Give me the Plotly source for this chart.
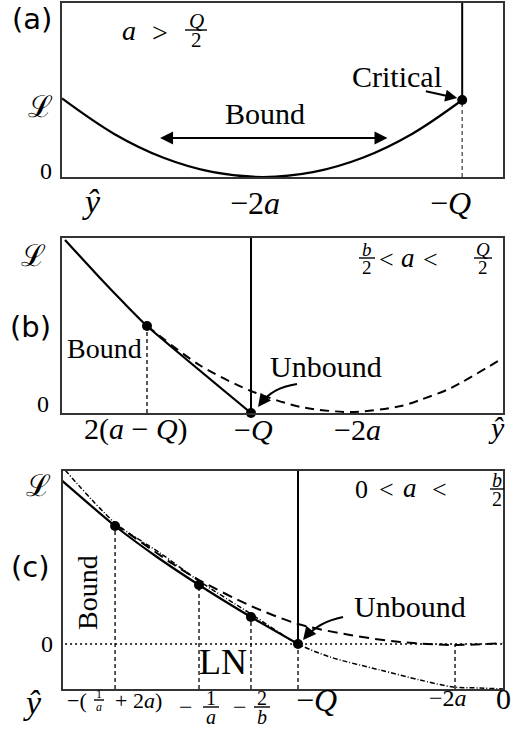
import plotly.graph_objects as go

W, H = 512, 732
SERIF = "Liberation Serif"
SANS = "DejaVu Sans"

# ---------------- data (arbitrary units) ----------------
# panel (a): a > Q/2
a_yhat = [-6.02, -5.5, -5.0, -4.5, -4.0, -3.5, -3.0, -2.5, -2.0]
a_L = [4.08, 2.25, 1.0, 0.25, 0.0, 0.25, 1.0, 2.25, 4.0]
a_crit_yhat = [-2.0]
a_crit_L = [4.0]
a_top = 9.04

# panel (b): b/2 < a < Q/2
b_solid_yhat = [-3.86, -3.51, -3.27, -3.04, -2.0]
b_solid_L = [1.73, 1.35, 1.10, 0.87, 0.0]
b_dash_yhat = [-3.04, -2.5, -2.0, -1.5, -1.0, -0.5, -0.31, 0.0, 0.52]
b_dash_L = [0.87, 0.47, 0.22, 0.06, 0.01, 0.07, 0.13, 0.25, 0.55]
b_dots_yhat = [-3.04, -2.0]
b_dots_L = [0.87, 0.0]
b_top = 1.75

# panel (c): 0 < a < b/2
c_solid_yhat = [-4.31, -3.785, -3.376, -2.966, -2.459, -2.0]
c_solid_L = [1.64, 1.18, 0.87, 0.59, 0.27, 0.0]
c_dash_yhat = [-3.785, -3.22, -2.966, -2.459, -2.0, -1.493, -1.005, -0.468, 0.0]
c_dash_L = [1.20, 0.80, 0.64, 0.38, 0.20, 0.09, 0.02, -0.01, 0.01]
c_dd_yhat = [-4.273, -3.785, -3.346, -2.966, -2.459, -2.0, -1.688, -1.2, -0.81, -0.488, -0.224, 0.0]
c_dd_L = [1.74, 1.21, 0.91, 0.63, 0.30, 0.0, -0.13, -0.26, -0.36, -0.43, -0.44, -0.45]
c_dots_yhat = [-3.785, -2.966, -2.459, -2.0]
c_dots_L = [1.18, 0.59, 0.27, 0.0]
c_min_yhat = -0.468
c_top, c_bot = 1.73, -0.45

fig = go.Figure()

def line(x, y, ax, dash="solid", width=2.2, color="black", shape="linear", smooth=None):
    ln = dict(color=color, width=width, dash=dash, shape=shape)
    if smooth is not None:
        ln["smoothing"] = smooth
    fig.add_trace(go.Scatter(x=x, y=y, mode="lines", line=ln, xaxis="x" + ax, yaxis="y" + ax,
                             hoverinfo="skip"))

def dots(x, y, ax, size=10):
    fig.add_trace(go.Scatter(x=x, y=y, mode="markers", marker=dict(color="black", size=size),
                             xaxis="x" + ax, yaxis="y" + ax, cliponaxis=False, hoverinfo="skip"))

# panel (a)
line(a_yhat, a_L, "", shape="spline", smooth=1.0)
line([a_crit_yhat[0]] * 2, [a_crit_L[0], a_top], "", width=2)
line([a_crit_yhat[0]] * 2, [0, a_crit_L[0]], "", dash="4px,3px", width=1.4, color="#555")
dots(a_crit_yhat, a_crit_L, "")

# panel (b)
line(b_solid_yhat, b_solid_L, "2", shape="spline", smooth=0.5)
line(b_dash_yhat, b_dash_L, "2", dash="9px,6px", width=2, shape="spline", smooth=0.8)
line([b_dots_yhat[1]] * 2, [0, b_top], "2", width=2)
line([b_dots_yhat[0]] * 2, [0, b_dots_L[0]], "2", dash="4px,3px", width=1.3)
dots(b_dots_yhat, b_dots_L, "2")

# panel (c)
line([c_dd_yhat[0], c_dash_yhat[-1]], [0, 0], "3", dash="2px,3px", width=1.3)
line(c_dd_yhat, c_dd_L, "3", dash="5px,2px,1px,2px", width=1.5, shape="spline", smooth=0.8)
line(c_dash_yhat, c_dash_L, "3", dash="10px,6px", width=2, shape="spline", smooth=0.8)
line(c_solid_yhat, c_solid_L, "3", shape="spline", smooth=0.6)
line([c_dots_yhat[3]] * 2, [0, c_top], "3", width=2)
for xv, yv in zip(c_dots_yhat, c_dots_L):
    line([xv, xv], [c_bot, yv], "3", dash="4px,3px", width=1.3)
line([c_min_yhat, c_min_yhat], [c_bot, 0], "3", dash="4px,3px", width=1.3)
dots(c_dots_yhat, c_dots_L, "3")

# ---------------- axes ----------------
def dom_x(l, r):
    return [l / W, r / W]

def dom_y(t, b):
    return [1 - b / H, 1 - t / H]

ax_common = dict(showgrid=False, zeroline=False, showticklabels=False, ticks="",
                 showline=True, mirror=True, linecolor="#333", linewidth=1.5)
fig.update_layout(
    xaxis=dict(domain=dom_x(62, 503), range=[-6.02, -1.59], anchor="y", **ax_common),
    yaxis=dict(domain=dom_y(3, 177), range=[0, a_top], anchor="x", **ax_common),
    xaxis2=dict(domain=dom_x(62, 503), range=[-3.89, 0.52], anchor="y2", **ax_common),
    yaxis2=dict(domain=dom_y(238, 413), range=[0, b_top], anchor="x2", **ax_common),
    xaxis3=dict(domain=dom_x(63, 503), range=[-4.293, 0.0], anchor="y3", **ax_common),
    yaxis3=dict(domain=dom_y(471, 689), range=[c_bot, c_top], anchor="x3", **ax_common),
)

# ---------------- text ----------------
ann = []
shapes = []

def T(text, x, y, size, family=SERIF, angle=0):
    ann.append(dict(text=text, x=x / W, y=1 - y / H, xref="paper", yref="paper", showarrow=False,
                    font=dict(size=size, family=family, color="black"), xanchor="center",
                    yanchor="middle", textangle=angle))

def F(xc, ybar, num, den, size, halfw):
    T(num, xc, ybar - 2 - 0.33 * size, size)
    T(den, xc, ybar + 3 + 0.33 * size, size)
    shapes.append(dict(type="rect", xref="paper", yref="paper", layer="above",
                       x0=(xc - halfw) / W, x1=(xc + halfw) / W,
                       y0=1 - (ybar + 0.7) / H, y1=1 - (ybar - 0.7) / H,
                       fillcolor="black", line=dict(width=0)))

# panel (a)
T("(a)", 32, 19, 29, SANS)
T("<i>a</i>", 129, 31, 28)
T("&gt;", 160, 32, 28)
F(196, 30, "<i>Q</i>", "2", 21, 11)
T("ℒ", 40, 106, 30, "DejaVu Serif")
T("0", 46, 171, 24)
T("<i>ŷ</i>", 91, 202, 34)
T("−2<i>a</i>", 255, 203, 32)
T("−<i>Q</i>", 450, 203, 32)
T("Bound", 265, 113, 30)
T("Critical", 397, 76, 30)

# panel (b)
T("(b)", 30, 327, 29, SANS)
T("ℒ", 33, 256, 30, "DejaVu Serif")
T("0", 43, 404, 24)
T("2(<i>a</i> − <i>Q</i>)", 136, 429, 30)
T("−<i>Q</i>", 253, 429, 30)
T("−2<i>a</i>", 357, 429, 30)
T("<i>ŷ</i>", 496, 427, 30)
F(367, 258, "<i>b</i>", "2", 19, 8)
T("&lt;", 386, 259, 26)
T("<i>a</i>", 408, 258, 27)
T("&lt;", 430, 259, 26)
F(483, 258, "<i>Q</i>", "2", 19, 9)
T("Bound", 104, 348, 28)
T("Unbound", 326, 366, 30)

# panel (c)
T("(c)", 30, 567, 29, SANS)
T("ℒ", 38, 485, 30, "DejaVu Serif")
T("0", 47, 644, 24)
T("<i>ŷ</i>", 32, 702, 34)
T("−(", 77, 700, 22)
F(99, 700, "1", "<i>a</i>", 12, 5)
T("+ 2<i>a</i>)", 138, 700, 22)
T("−", 186, 707, 24)
F(211, 707, "1", "<i>a</i>", 20, 8)
T("−", 240, 707, 24)
F(262, 707, "2", "<i>b</i>", 20, 8)
T("−<i>Q</i>", 316, 700, 32)
T("−2<i>a</i>", 448, 698, 24)
T("0", 503, 698, 30)
T("0", 361, 489, 26)
T("&lt;", 386, 489, 26)
T("<i>a</i>", 410, 488, 27)
T("&lt;", 439, 489, 26)
F(497, 489, "<i>b</i>", "2", 20, 7)
T("Bound", 87, 593, 28, angle=-90)
T("LN", 223, 662, 36)
T("Unbound", 410, 606, 30)

# arrows (data coordinates)
ann.append(dict(x=-2.75, y=2.03, ax=-5.05, ay=2.03, xref="x", yref="y", axref="x", ayref="y",
                text="", showarrow=True, arrowhead=2, arrowside="end+start", arrowsize=1.3,
                arrowwidth=2, arrowcolor="black"))
ann.append(dict(x=-2.05, y=4.1, ax=-2.38, ay=4.47, xref="x", yref="y", axref="x", ayref="y",
                text="", showarrow=True, arrowhead=2, arrowsize=1.2, arrowwidth=2,
                arrowcolor="black"))
# curved arrow (b)
shapes.append(dict(type="path", xref="x2", yref="y2", path="M -1.54 0.29 Q -1.80 0.25 -1.90 0.09",
                   line=dict(color="black", width=2)))
ann.append(dict(x=-1.93, y=0.06, ax=9, ay=-12, xref="x2", yref="y2", text="", showarrow=True,
                arrowhead=2, arrowsize=1.3, arrowwidth=2, arrowcolor="black"))
# curved arrow (c)
shapes.append(dict(type="path", xref="x3", yref="y3", path="M -1.561 0.27 Q -1.80 0.22 -1.92 0.07",
                   line=dict(color="black", width=2)))
ann.append(dict(x=-1.951, y=0.04, ax=9, ay=-11, xref="x3", yref="y3", text="", showarrow=True,
                arrowhead=2, arrowsize=1.3, arrowwidth=2, arrowcolor="black"))

fig.update_layout(width=W, height=H, margin=dict(l=0, r=0, t=0, b=0), showlegend=False,
                  plot_bgcolor="white", paper_bgcolor="white", annotations=ann, shapes=shapes)

fig.write_html("out.html", config={"displayModeBar": False})

# remove the default page margin so the figure sits at the window's top-left corner
with open("out.html", encoding="utf-8") as fh:
    page = fh.read()
page = page.replace("<body>", '<body style="margin:0;padding:0;overflow:hidden">', 1)
with open("out.html", "w", encoding="utf-8") as fh:
    fh.write(page)
